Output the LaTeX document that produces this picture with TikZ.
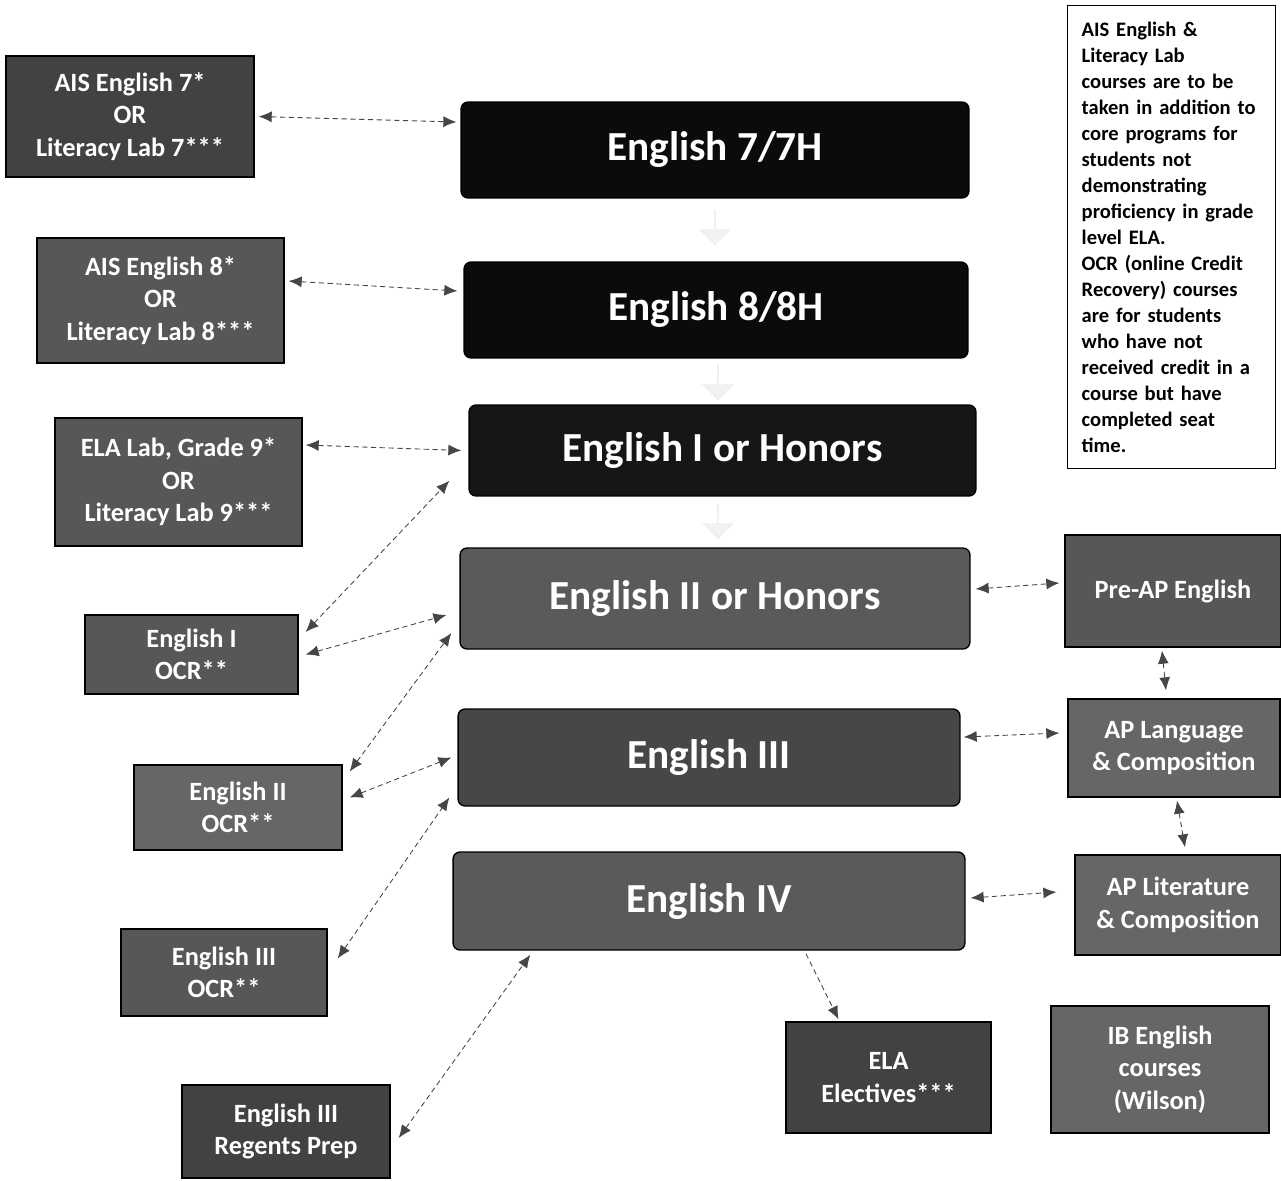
\documentclass[tikz,border=0pt]{standalone}
\usepackage{fontspec}
\setmainfont{Carlito}
\usepackage{xcolor}
\usetikzlibrary{arrows.meta}
\usetikzlibrary{shapes.arrows}
\definecolor{coreblack}{HTML}{0B0B0B}
\definecolor{coredark}{HTML}{161616}
\definecolor{coregray}{HTML}{5A5A5A}
\definecolor{coremid}{HTML}{474747}
\definecolor{sidegray}{HTML}{575757}
\definecolor{sidelight}{HTML}{666666}
\definecolor{sidedark}{HTML}{424242}

\begin{document}
\begin{tikzpicture}[x=0.02cm,y=-0.02cm,
	mainbox/.style={draw=black,line width=0.8pt,rounded corners=4pt,inner sep=0pt,text=white,font=\bfseries\fontsize{23.5}{28}\selectfont},
	sidebox/.style={draw=black,line width=0.8pt,inner sep=0pt,text=white,align=center,font=\bfseries\fontsize{15}{18.5}\selectfont},
	link/.style={densely dashed,gray!55!black,line width=0.5pt,{Latex[length=2.6mm,width=2.2mm]}-{Latex[length=2.6mm,width=2.2mm]}},
	flowarrow/.style={single arrow,shape border rotate=270,fill=gray!10,draw=gray!30,densely dotted,minimum height=0.7cm,minimum width=0.6cm,inner sep=0pt}]
		\useasboundingbox (0,0) rectangle (1281,1180);
		% core courses
		\node[mainbox,fill=coreblack,minimum width=10.16cm,minimum height=1.92cm] (e7) at (715,150) {English 7/7H};
		\node[mainbox,fill=coreblack,minimum width=10.08cm,minimum height=1.92cm] (e8) at (716,310) {English 8/8H};
		\node[mainbox,fill=coredark,minimum width=10.14cm,minimum height=1.82cm] (e9) at (722.5,450.5) {English I or Honors};
		\node[mainbox,fill=coregray,minimum width=10.2cm,minimum height=2.02cm] (e10) at (715,598.5) {English II or Honors};
		\node[mainbox,fill=coremid,minimum width=10.04cm,minimum height=1.94cm] (e11) at (709,757.5) {English III};
		\node[mainbox,fill=coregray,minimum width=10.24cm,minimum height=1.96cm] (e12) at (709,901) {English IV};
		\node[flowarrow] (f78) at (715,227) {};
		\node[flowarrow] (f89) at (718,382) {};
		\node[flowarrow] (f910) at (718,521) {};
		% support and recovery courses
		\node[sidebox,fill=sidedark,minimum width=4.96cm,minimum height=2.42cm] (ais7) at (130,116.5) {AIS English 7*\\OR\\Literacy Lab 7***};
		\node[sidebox,fill=sidegray,minimum width=4.94cm,minimum height=2.5cm] (ais8) at (160.5,300.5) {AIS English 8*\\OR\\Literacy Lab 8***};
		\node[sidebox,fill=sidegray,minimum width=4.94cm,minimum height=2.56cm] (ela9) at (178.5,482) {ELA Lab, Grade 9*\\OR\\Literacy Lab 9***};
		\node[sidebox,fill=sidegray,minimum width=4.26cm,minimum height=1.58cm] (ocr1) at (191.5,654.5) {English I\\OCR**};
		\node[sidebox,fill=sidelight,minimum width=4.16cm,minimum height=1.7cm] (ocr2) at (238,807.5) {English II\\OCR**};
		\node[sidebox,fill=sidegray,minimum width=4.12cm,minimum height=1.74cm] (ocr3) at (224,972.5) {English III\\OCR**};
		\node[sidebox,fill=sidedark,minimum width=4.16cm,minimum height=1.86cm] (regents) at (286,1131.5) {English III\\Regents Prep};
		% advanced courses
		\node[sidebox,fill=sidegray,minimum width=4.32cm,minimum height=2.24cm] (preap) at (1173,591) {Pre-AP English};
		\node[sidebox,fill=sidelight,minimum width=4.24cm,minimum height=1.96cm] (aplang) at (1174,748) {AP Language\\\& Composition};
		\node[sidebox,fill=sidelight,minimum width=4.12cm,minimum height=2.0cm] (aplit) at (1178,905) {AP Literature\\\& Composition};
		\node[sidebox,fill=sidedark,minimum width=4.1cm,minimum height=2.22cm] (elective) at (888.5,1077.5) {ELA\\Electives***};
		\node[sidebox,fill=sidelight,minimum width=4.36cm,minimum height=2.54cm] (ib) at (1160,1069.5) {IB English\\courses\\(Wilson)};
		% note
		\node[draw=black,line width=0.8pt,anchor=north west,minimum width=4.16cm,minimum height=9.26cm,text width=3.6cm,inner xsep=0.28cm,align=left,font=\bfseries\fontsize{11.7}{14.8}\selectfont] (note) at (1067,5) {AIS English \&\\Literacy Lab\\courses are to be\\taken in addition to\\core programs for\\students not\\demonstrating\\proficiency in grade\\level ELA.\\OCR (online Credit\\Recovery) courses\\are for students\\who have not\\received credit in a\\course but have\\completed seat\\time.};
		% links
		\draw[link] ([xshift=0.08cm]ais7.east) -- ([xshift=-0.08cm,yshift=0.56cm]e7.west);
		\draw[link] ([xshift=0.08cm,yshift=0.39cm]ais8.east) -- ([xshift=-0.12cm,yshift=0.38cm]e8.west);
		\draw[link] ([xshift=0.06cm,yshift=0.74cm]ela9.east) -- ([xshift=-0.14cm]e9.west);
		\draw[link] ([xshift=0.14cm,yshift=0.45cm]ocr1.east) -- ([xshift=-0.38cm,yshift=0.32cm]e9.south west);
		\draw[link] ([xshift=0.14cm]ocr1.east) -- ([xshift=-0.26cm,yshift=-0.33cm]e10.west);
		\draw[link] ([xshift=0.14cm,yshift=0.72cm]ocr2.east) -- ([xshift=-0.16cm,yshift=-0.69cm]e10.west);
		\draw[link] ([xshift=0.14cm,yshift=0.2cm]ocr2.east) -- ([xshift=-0.12cm]e11.west);
		\draw[link] ([xshift=0.2cm,yshift=0.28cm]ocr3.east) -- ([xshift=-0.16cm,yshift=-0.8cm]e11.west);
		\draw[link] ([xshift=0.16cm,yshift=-0.13cm]regents.east) -- ([xshift=1.56cm,yshift=-0.08cm]e12.south west);
		\draw[link,{Latex[length=2.6mm,width=2.2mm]}-{Latex[length=2.6mm,width=2.2mm]}] ([xshift=0.1cm,yshift=0.19cm]e10.east) -- ([xshift=-0.1cm,yshift=0.16cm]preap.west);
		\draw[link] ([xshift=-0.22cm,yshift=-0.06cm]preap.south) -- ([xshift=-0.16cm,yshift=0.16cm]aplang.north);
		\draw[link] ([xshift=0.06cm,yshift=0.41cm]e11.east) -- ([xshift=-0.16cm,yshift=0.3cm]aplang.west);
		\draw[link] ([xshift=0.06cm,yshift=-0.06cm]aplang.south) -- ([xshift=0.14cm,yshift=0.14cm]aplit.north);
		\draw[link] ([xshift=0.1cm,yshift=0.06cm]e12.east) -- ([xshift=-0.36cm,yshift=0.26cm]aplit.west);
		\draw[link,-{Latex[length=2.6mm,width=2.2mm]}] ([xshift=1.94cm,yshift=-0.06cm]e12.south) -- ([xshift=-1.0cm,yshift=0.04cm]elective.north);
	\end{tikzpicture}
\end{document}
